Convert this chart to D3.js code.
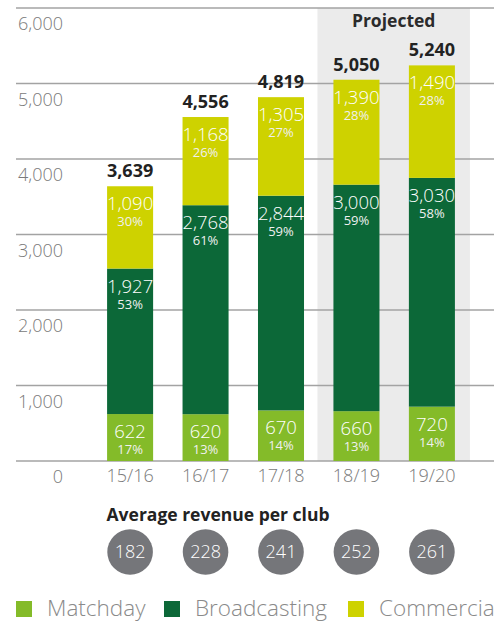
<!DOCTYPE html>
<html><head><meta charset="utf-8">
<script src="https://cdn.jsdelivr.net/npm/d3@7"></script>
<style>
html,body{margin:0;padding:0;background:#fff;}
svg{display:block;font-family:"Open Sans",sans-serif;}
</style></head>
<body><svg id="c" width="494" height="621"></svg>
<script>
const seasons = ["15/16","16/17","17/18","18/19","19/20"];
const matchday = [622,620,670,660,720];
const broadcasting = [1927,2768,2844,3000,3030];
const commercial = [1090,1168,1305,1390,1490];
const matchdayPct = ["17%","13%","14%","13%","14%"];
const broadcastingPct = ["53%","61%","59%","59%","58%"];
const commercialPct = ["30%","26%","27%","28%","28%"];
const totals = ["3,639","4,556","4,819","5,050","5,240"];
const avgPerClub = [182,228,241,252,261];
const projected = ["18/19","19/20"];
const yTicks = [0,1000,2000,3000,4000,5000,6000];
const seriesNames = ["Matchday","Broadcasting","Commercial"];
const colors = ["#84bb29","#0c6838","#ced200"];

const svg = d3.select("#c");
const y = d3.scaleLinear().domain([0,6000]).range([461,8]);
const x = d3.scaleBand().domain(seasons).range([92,470]).paddingInner(0.39).paddingOuter(0.2);

// projected shade
const p0 = x(projected[0]) - 16, p1 = x(projected[projected.length-1]) + x.bandwidth() + 15;
svg.append("rect").attr("x",p0).attr("y",y(6000)).attr("width",p1-p0).attr("height",y(0)-y(6000)).attr("fill","#ebebeb");
svg.append("text").attr("x",(p0+p1)/2).attr("y",27).attr("text-anchor","middle")
  .attr("font-size",17.5).attr("font-weight",700).attr("fill","#2b2b2b").text("Projected");

// gridlines + y labels
yTicks.forEach(t=>{
  svg.append("line").attr("x1",16).attr("x2",494).attr("y1",y(t)).attr("y2",y(t))
    .attr("stroke","#a3a3a3").attr("stroke-width",1.5);
  svg.append("text").attr("x",63).attr("y",y(t)+22).attr("text-anchor","end")
    .attr("font-size",18).attr("font-weight",300).attr("fill","#7a7a7a").text(d3.format(",")(t));
});

// stacked bars
const rows = seasons.map((s,i)=>({season:s,Matchday:matchday[i],Broadcasting:broadcasting[i],Commercial:commercial[i]}));
const pcts = [matchdayPct,broadcastingPct,commercialPct];
const stack = d3.stack().keys(seriesNames)(rows);
stack.forEach((layer,li)=>{
  const g = svg.append("g");
  g.selectAll("rect").data(layer).join("rect")
    .attr("x",d=>x(d.data.season)).attr("width",x.bandwidth())
    .attr("y",d=>y(d[1])).attr("height",d=>y(d[0])-y(d[1]))
    .attr("fill",colors[li]);
  g.selectAll("text.v").data(layer).join("text").attr("class","v")
    .attr("x",d=>x(d.data.season)+x.bandwidth()/2).attr("y",d=>y(d[1])+24)
    .attr("text-anchor","middle").attr("font-size",18.5).attr("font-weight",300).attr("fill","#fff")
    .text(d=>d3.format(",")(d[1]-d[0]));
  g.selectAll("text.p").data(layer).join("text").attr("class","p")
    .attr("x",d=>x(d.data.season)+x.bandwidth()/2).attr("y",(d,i)=>y(d[1])+40)
    .attr("text-anchor","middle").attr("font-size",13).attr("font-weight",400).attr("fill","#f0f0f0")
    .text((d,i)=>pcts[li][i]);
});

// totals
const topLayer = stack[stack.length-1];
svg.selectAll("text.tot").data(topLayer).join("text").attr("class","tot")
  .attr("x",d=>x(d.data.season)+x.bandwidth()/2).attr("y",d=>y(d[1])-9)
  .attr("text-anchor","middle").attr("font-size",18).attr("font-weight",700).attr("fill","#222")
  .text((d,i)=>totals[i]);

// x labels
svg.selectAll("text.xl").data(seasons).join("text").attr("class","xl")
  .attr("x",d=>x(d)+x.bandwidth()/2).attr("y",482).attr("text-anchor","middle")
  .attr("font-size",18).attr("font-weight",300).attr("fill","#7a7a7a").text(d=>d);

// average revenue per club
svg.append("text").attr("x",218).attr("y",521).attr("text-anchor","middle")
  .attr("font-size",17.5).attr("font-weight",700).attr("fill","#222").text("Average revenue per club");
const cg = svg.selectAll("g.circ").data(avgPerClub).join("g").attr("class","circ")
  .attr("transform",(d,i)=>`translate(${x(seasons[i])+x.bandwidth()/2},552)`);
cg.append("circle").attr("r",22.8).attr("fill","#75767a");
cg.append("text").attr("y",6).attr("text-anchor","middle").attr("font-size",18).attr("font-weight",300)
  .attr("fill","#fff").text(d=>d);

// legend
const legX = [16,164,348];
seriesNames.forEach((n,i)=>{
  svg.append("rect").attr("x",legX[i]).attr("y",601).attr("width",16).attr("height",16).attr("fill",colors[i]);
  svg.append("text").attr("x",legX[i]+31).attr("y",616).attr("font-size",22.5).attr("font-weight",300)
    .attr("fill","#8a8a8a").text(n);
});
</script></body></html>
